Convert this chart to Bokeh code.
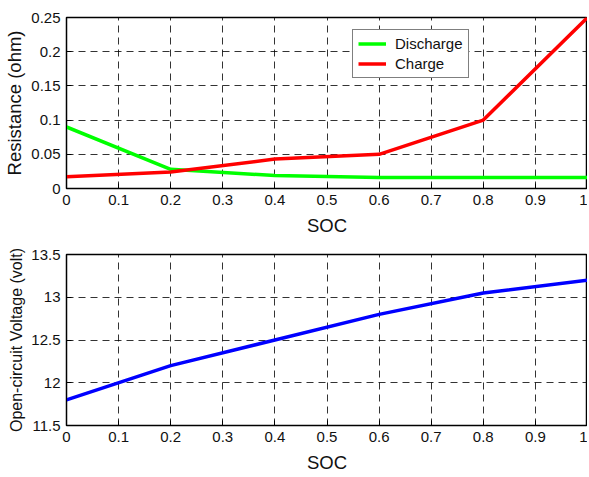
from bokeh.plotting import figure
from bokeh.layouts import column
from bokeh.models import FixedTicker, Legend, LegendItem
from bokeh.embed import file_html
from bokeh.resources import INLINE

soc = [0, 0.2, 0.4, 0.6, 0.8, 1.0]
discharge = [0.09, 0.028, 0.019, 0.016, 0.016, 0.016]
charge = [0.017, 0.024, 0.043, 0.050, 0.100, 0.250]
voltage = [11.8, 12.2, 12.5, 12.8, 13.05, 13.2]

x_ticks = [0, 0.1, 0.2, 0.3, 0.4, 0.5, 0.6, 0.7, 0.8, 0.9, 1.0]
x_labels = ["0", "0.1", "0.2", "0.3", "0.4", "0.5", "0.6", "0.7", "0.8", "0.9", "1"]
r_ticks = [0, 0.05, 0.1, 0.15, 0.2, 0.25]
r_labels = ["0", "0.05", "0.1", "0.15", "0.2", "0.25"]
v_ticks = [11.5, 12, 12.5, 13, 13.5]
v_labels = ["11.5", "12", "12.5", "13", "13.5"]

FONT = "Liberation Sans"


def style(p, xt, xl, yt, yl, ylabel, ylabel_size):
    p.xaxis.ticker = FixedTicker(ticks=xt)
    p.yaxis.ticker = FixedTicker(ticks=yt)
    p.xaxis.major_label_overrides = {t: l for t, l in zip(xt, xl)}
    p.yaxis.major_label_overrides = {t: l for t, l in zip(yt, yl)}
    for ax in (p.xaxis[0], p.yaxis[0]):
        ax.major_tick_in = 5
        ax.major_tick_out = 0
        ax.minor_tick_in = 0
        ax.minor_tick_out = 0
        ax.axis_line_color = "black"
        ax.major_tick_line_color = "black"
        ax.major_label_text_font = FONT
        ax.major_label_text_font_size = "15px"
        ax.major_label_text_color = "#111111"
        ax.axis_label_text_font = FONT
        ax.axis_label_text_font_size = "18.5px"
        ax.axis_label_text_font_style = "normal"
        ax.axis_label_text_color = "#111111"
        ax.major_label_standoff = 6
    p.yaxis.axis_label_text_font_size = ylabel_size
    p.xaxis.axis_label_standoff = 7
    p.yaxis.axis_label_standoff = 3
    p.xaxis.axis_label = "SOC"
    p.yaxis.axis_label = ylabel
    p.grid.grid_line_color = "black"
    p.grid.grid_line_dash = "7 5"
    p.grid.grid_line_alpha = 0.8
    p.grid.grid_line_width = 1
    p.outline_line_color = "black"
    p.outline_line_width = 1.5
    p.outline_line_alpha = 1
    p.xgrid.ticker = FixedTicker(ticks=xt)
    p.ygrid.ticker = FixedTicker(ticks=yt)


p1 = figure(width=587, height=238, x_range=(0, 1), y_range=(0, 0.25),
            output_backend="svg", toolbar_location=None,
            min_border_left=66, min_border_right=0, min_border_top=17, min_border_bottom=10)
l1 = p1.line(soc, discharge, line_color="#00ff00", line_width=3.5)
l2 = p1.line(soc, charge, line_color="#ff0000", line_width=3.5)
style(p1, x_ticks, x_labels, r_ticks, r_labels, "Resistance (ohm)", "18.5px")
leg = Legend(items=[LegendItem(label="Discharge", renderers=[l1]),
                    LegendItem(label="Charge", renderers=[l2])],
             location=(286, 110))
leg.border_line_color = "black"
leg.border_line_width = 1.5
leg.background_fill_color = "white"
leg.background_fill_alpha = 1
leg.label_text_font = FONT
leg.label_text_font_size = "15px"
leg.label_text_color = "#111111"
leg.glyph_width = 28
leg.glyph_height = 17
leg.label_height = 17
leg.spacing = 3
leg.padding = 5
leg.margin = 0
leg.label_standoff = 9
p1.add_layout(leg, "center")

p2 = figure(width=587, height=237, x_range=(0, 1), y_range=(11.5, 13.5),
            output_backend="svg", toolbar_location=None,
            min_border_left=66, min_border_right=0, min_border_top=16, min_border_bottom=10)
p2.line(soc, voltage, line_color="#0000ff", line_width=3.5)
style(p2, x_ticks, x_labels, v_ticks, v_labels, "Open-circuit Voltage (volt)", "16px")

layout = column(p1, p2, spacing=0)
open("out.html", "w").write(file_html(layout, INLINE))
